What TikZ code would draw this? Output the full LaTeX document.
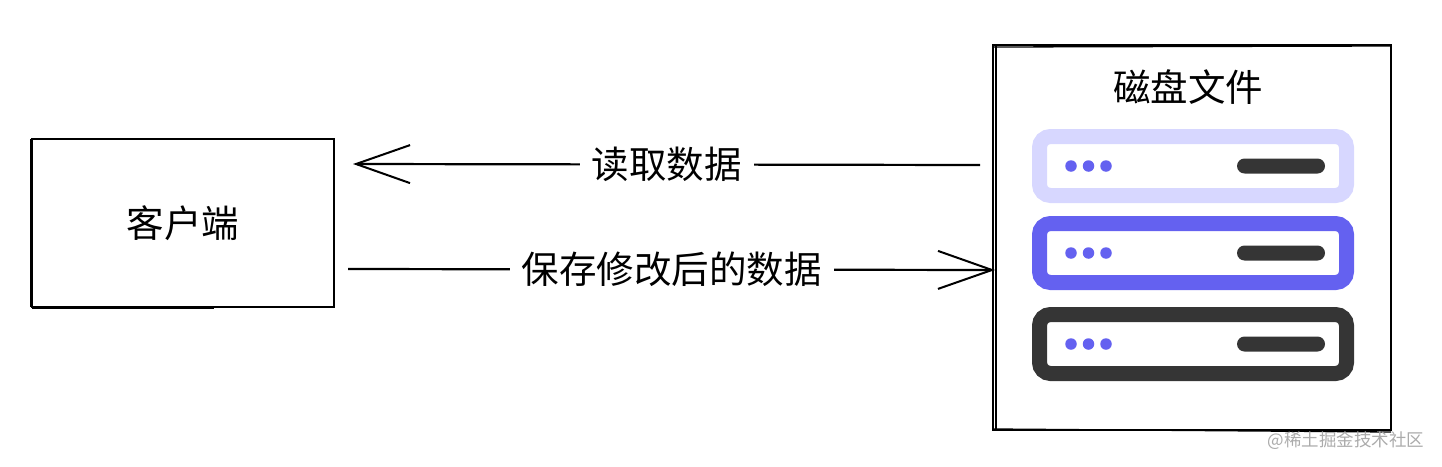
\documentclass[tikz,border=0pt]{standalone}
\usepackage{fontspec}
\setmainfont{Noto Sans CJK SC}
\usetikzlibrary{arrows.meta}
\definecolor{srvlight}{HTML}{D7D7FF}
\definecolor{srvblue}{HTML}{6461F0}
\definecolor{srvdark}{HTML}{353535}
\definecolor{markgray}{HTML}{ABABAB}

\begin{document}
\begin{tikzpicture}[
  x=1pt, y=-1pt,
  font=\fontsize{37.5}{40}\selectfont,
  box/.style={draw=black, line width=2.4pt, outer sep=0pt, inner sep=0pt},
  sketch/.style={black, line width=1.3pt},
  srv/.style={draw=#1, line width=15pt, rounded corners=11pt, outer sep=0pt, inner sep=0pt,
    minimum width=307pt, minimum height=59pt},
  dot/.style={circle, fill=srvblue, inner sep=0pt, minimum size=11.5pt},
  pill/.style={fill=srvdark, rounded corners=7.5pt, inner sep=0pt, minimum width=88pt, minimum height=15pt},
  lbl/.style={fill=white, inner xsep=12pt, inner ysep=2pt},
  arr/.style={-{Straight Barb[length=54pt,width=38pt,line width=2pt]}, line width=2.2pt}
]
\useasboundingbox (0,0) rectangle (1442,466);

% Boxes
\node[box, minimum width=302pt, minimum height=168pt] (client) at (183,223) {\raisebox{1pt}{客户端}};
\node[box, minimum width=398pt, minimum height=385pt] (disk) at (1192,237.5) {};
\node (disktitle) at (1188,87) {磁盘文件};

% Second pencil strokes
\draw[sketch] ([xshift=3pt]disk.north west) -- ([xshift=3pt]disk.south west);
\draw[sketch] ([yshift=-2pt]disk.north west) -- ([yshift=-1pt]disk.north east);
\draw[sketch] ([xshift=1pt,yshift=1pt]disk.south west) -- ([yshift=-2pt]disk.south east);
\draw[sketch] ([xshift=-1pt]client.north west) -- ([xshift=-1pt]client.south west);
\draw[sketch] ([yshift=-1pt]client.south west) -- ([yshift=-1pt,xshift=-120pt]client.south east);

% Servers
\foreach \name/\col/\ypos in {srva/srvlight/166, srvb/srvblue/253, srvc/srvdark/344} {
  \node[srv=\col] (\name) at (1193,\ypos) {};
  \node[dot] (\name dota) at ([xshift=31.5pt]\name.west) {};
  \node[dot] (\name dotb) at ([xshift=49pt]\name.west) {};
  \node[dot] (\name dotc) at ([xshift=66.5pt]\name.west) {};
  \node[pill] (\name bar) at ([xshift=-65.5pt]\name.east) {};
}

% Arrows
\draw[arr] ([xshift=-13pt,yshift=72.5pt]disk.west) -- node[lbl] (readlbl) {读取数据} ([xshift=19pt,yshift=59pt]client.east);
\draw[arr] ([xshift=14pt,yshift=-46pt]client.east) -- node[lbl] (savelbl) {保存修改后的数据} ([xshift=2pt,yshift=-32.5pt]disk.west);

% Watermark
\node[text=markgray, font=\fontsize{17.5}{20}\selectfont] (watermark) at (1346,441) {@稀土掘金技术社区};

\end{tikzpicture}
\end{document}
